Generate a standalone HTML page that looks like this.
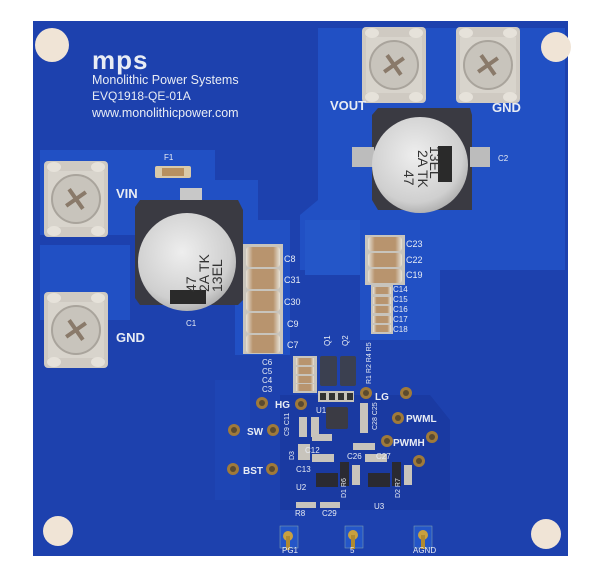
<!DOCTYPE html>
<html><head><meta charset="utf-8"><style>
html,body{margin:0;padding:0;background:#fff;width:600px;height:582px;overflow:hidden}
svg{display:block}
text{font-family:"Liberation Sans",sans-serif;fill:#e8ecf4}
</style></head><body>
<svg width="600" height="582" viewBox="0 0 600 582" xmlns="http://www.w3.org/2000/svg">
<defs>
<radialGradient id="cap" cx="0.45" cy="0.4" r="0.7"><stop offset="0" stop-color="#eeeeee"/><stop offset="0.7" stop-color="#cfcfcf"/><stop offset="1" stop-color="#9a9a9a"/></radialGradient>
<linearGradient id="mlcc" x1="0" x2="1"><stop offset="0" stop-color="#e6e2d8"/><stop offset="0.2" stop-color="#b8946e"/><stop offset="0.8" stop-color="#b8946e"/><stop offset="1" stop-color="#e6e2d8"/></linearGradient>
<g id="term">
<rect x="0" y="0" width="64" height="76" rx="4" fill="#cfcac2"/>
<rect x="4" y="10" width="56" height="56" fill="#d8d4cc"/>
<circle cx="32" cy="38" r="24" fill="#c8c4bc" stroke="#a9a49c" stroke-width="2"/>
<path d="M20 38 L44 38 M32 26 L32 50" stroke="#8a7a6a" stroke-width="4" transform="rotate(-35 32 38)"/>
<ellipse cx="10" cy="6" rx="7" ry="5" fill="#e6e2da"/><ellipse cx="54" cy="6" rx="7" ry="5" fill="#e6e2da"/>
<ellipse cx="10" cy="70" rx="7" ry="5" fill="#e6e2da"/><ellipse cx="54" cy="70" rx="7" ry="5" fill="#e6e2da"/>
</g>
<g id="pad"><circle r="6" fill="#a07a3a"/><circle r="3" fill="#5a4a30"/></g>
</defs>
<rect x="33" y="21" width="535" height="535" fill="#1d41ae"/>
<path d="M318 28 L565 28 L565 270 L300 270 L300 215 L318 200 Z" fill="#2150c4"/>
<path d="M40 150 L215 150 L215 180 L258 180 L258 235 L40 235 Z" fill="#2150c4"/>
<path d="M40 245 L130 245 L130 320 L40 320 Z" fill="#2150c4"/>
<path d="M235 220 L290 220 L290 355 L235 355 Z" fill="#2150c4"/>
<path d="M305 220 L360 220 L360 275 L305 275 Z" fill="#2456c8"/>
<path d="M215 380 L250 380 L250 500 L215 500 Z" fill="#1f47b8" opacity="0.6"/>
<path d="M280 395 L430 395 L450 420 L450 510 L280 510 Z" fill="#1a3aa2"/>
<path d="M360 270 L440 270 L440 340 L360 340 Z" fill="#2150c4"/>
<circle cx="52" cy="45" r="17" fill="#f0e4d6"/>
<circle cx="556" cy="47" r="15" fill="#f0e4d6"/>
<circle cx="58" cy="531" r="15" fill="#f0e4d6"/>
<circle cx="546" cy="534" r="15" fill="#f0e4d6"/>
<text x="92" y="69" font-size="26" font-weight="bold" style="letter-spacing:1px">mps</text>
<text x="92" y="84" font-size="12.5" font-family="Liberation Serif">Monolithic Power Systems</text>
<text x="92" y="100" font-size="12">EVQ1918-QE-01A</text>
<text x="92" y="117" font-size="12.5" font-family="Liberation Serif">www.monolithicpower.com</text>
<use href="#term" x="44" y="161"/>
<use href="#term" x="44" y="292"/>
<use href="#term" x="362" y="27"/>
<use href="#term" x="456" y="27"/>
<text x="116" y="198" font-size="13" font-weight="bold">VIN</text>
<text x="116" y="342" font-size="13" font-weight="bold">GND</text>
<text x="330" y="110" font-size="13" font-weight="bold">VOUT</text>
<text x="492" y="112" font-size="13" font-weight="bold">GND</text>
<text x="164" y="160" font-size="8">F1</text>
<rect x="155" y="166" width="36" height="12" rx="2" fill="#d9c9a8"/><rect x="162" y="168" width="22" height="8" fill="#b79060"/>
<rect x="180" y="188" width="22" height="16" fill="#c8c8c8"/>
<path d="M140 200 L238 200 L243 210 L243 300 L238 305 L140 305 L135 298 L135 207 Z" fill="#3a3a42"/>
<circle cx="187" cy="262" r="49" fill="url(#cap)"/>
<rect x="170" y="290" width="36" height="14" fill="#2a2a2a"/>
<text x="0" y="0" font-size="14" style="fill:#333" transform="translate(196 292) rotate(-90)">47</text>
<text x="0" y="0" font-size="14" style="fill:#333" transform="translate(209 292) rotate(-90)">2A TK</text>
<text x="0" y="0" font-size="14" style="fill:#333" transform="translate(222 292) rotate(-90)">13EL</text>
<text x="186" y="326" font-size="8">C1</text>
<path d="M378 108 L470 108 L472 115 L472 210 L378 210 L372 200 L372 115 Z" fill="#3a3a42"/>
<rect x="352" y="147" width="22" height="20" fill="#bcbcbc"/><rect x="470" y="147" width="20" height="20" fill="#bcbcbc"/>
<circle cx="420" cy="165" r="48" fill="url(#cap)"/>
<rect x="438" y="146" width="14" height="36" fill="#2a2a2a"/>
<text x="0" y="0" font-size="14" style="fill:#333" transform="translate(430 146) rotate(90)">13EL</text>
<text x="0" y="0" font-size="14" style="fill:#333" transform="translate(418 150) rotate(90)">2A TK</text>
<text x="0" y="0" font-size="14" style="fill:#333" transform="translate(404 170) rotate(90)">47</text>
<text x="498" y="161" font-size="8">C2</text>
<rect x="243" y="244" width="40" height="110" fill="#c8c4bc"/>
<rect x="246" y="247" width="34" height="20" rx="3" fill="url(#mlcc)"/>
<rect x="246" y="269" width="34" height="20" rx="3" fill="url(#mlcc)"/>
<rect x="246" y="291" width="34" height="20" rx="3" fill="url(#mlcc)"/>
<rect x="246" y="313" width="34" height="20" rx="3" fill="url(#mlcc)"/>
<rect x="246" y="335" width="34" height="18" rx="3" fill="url(#mlcc)"/>
<text x="284" y="262" font-size="9">C8</text><text x="284" y="283" font-size="9">C31</text>
<text x="284" y="305" font-size="9">C30</text><text x="287" y="327" font-size="9">C9</text><text x="287" y="348" font-size="9">C7</text>
<rect x="365" y="235" width="40" height="50" fill="#c8c4bc"/>
<rect x="368" y="237" width="34" height="14" rx="3" fill="url(#mlcc)"/>
<rect x="368" y="253" width="34" height="14" rx="3" fill="url(#mlcc)"/>
<rect x="368" y="269" width="34" height="14" rx="3" fill="url(#mlcc)"/>
<rect x="371" y="285" width="22" height="49" fill="#c8c4bc"/>
<rect x="373" y="287" width="18" height="7" fill="url(#mlcc)"/><rect x="373" y="297" width="18" height="7" fill="url(#mlcc)"/>
<rect x="373" y="306" width="18" height="7" fill="url(#mlcc)"/><rect x="373" y="316" width="18" height="7" fill="url(#mlcc)"/>
<rect x="373" y="325" width="18" height="7" fill="url(#mlcc)"/>
<text x="406" y="247" font-size="9">C23</text><text x="406" y="263" font-size="9">C22</text><text x="406" y="278" font-size="9">C19</text>
<text x="393" y="292" font-size="8">C14</text><text x="393" y="302" font-size="8">C15</text><text x="393" y="312" font-size="8">C16</text>
<text x="393" y="322" font-size="8">C17</text><text x="393" y="332" font-size="8">C18</text>
<rect x="293" y="356" width="24" height="37" fill="#c8c4bc"/>
<rect x="296" y="358" width="18" height="7" fill="url(#mlcc)"/><rect x="296" y="367" width="18" height="7" fill="url(#mlcc)"/>
<rect x="296" y="376" width="18" height="7" fill="url(#mlcc)"/><rect x="296" y="384" width="18" height="7" fill="url(#mlcc)"/>
<text x="262" y="365" font-size="8">C6</text><text x="262" y="374" font-size="8">C5</text><text x="262" y="383" font-size="8">C4</text><text x="262" y="392" font-size="8">C3</text>
<rect x="320" y="356" width="17" height="30" rx="2" fill="#3b4050"/><rect x="340" y="356" width="16" height="30" rx="2" fill="#3b4050"/>
<text x="0" y="0" font-size="8" transform="translate(330 346) rotate(-90)">Q1</text>
<text x="0" y="0" font-size="8" transform="translate(348 346) rotate(-90)">Q2</text>
<text x="0" y="0" font-size="7" transform="translate(371 384) rotate(-90)">R1 R2 R4 R5</text>
<rect x="318" y="391" width="36" height="11" fill="#c8c4bc"/>
<rect x="320" y="393" width="6" height="7" fill="#333"/><rect x="329" y="393" width="6" height="7" fill="#333"/><rect x="338" y="393" width="6" height="7" fill="#333"/><rect x="347" y="393" width="6" height="7" fill="#333"/>
<rect x="326" y="407" width="22" height="22" rx="2" fill="#3b3b44"/>
<text x="316" y="413" font-size="8">U1</text>
<rect x="299" y="417" width="8" height="20" fill="#c8c4bc"/><rect x="311" y="417" width="8" height="20" fill="#c8c4bc"/>
<rect x="360" y="403" width="8" height="30" fill="#c8c4bc"/>
<rect x="298" y="444" width="12" height="16" fill="#c8c4bc"/>
<rect x="312" y="434" width="20" height="7" fill="#c8c4bc"/><rect x="353" y="443" width="22" height="7" fill="#c8c4bc"/>
<rect x="312" y="454" width="22" height="8" fill="#c8c4bc"/><rect x="365" y="454" width="22" height="8" fill="#c8c4bc"/>
<rect x="352" y="465" width="8" height="20" fill="#c8c4bc"/><rect x="404" y="465" width="8" height="20" fill="#c8c4bc"/>
<rect x="340" y="462" width="9" height="24" fill="#2a2a32"/><rect x="392" y="462" width="9" height="24" fill="#2a2a32"/>
<rect x="316" y="473" width="22" height="14" fill="#2a2a32"/><rect x="368" y="473" width="22" height="14" fill="#2a2a32"/>
<rect x="296" y="502" width="20" height="6" fill="#c8c4bc"/><rect x="320" y="502" width="20" height="6" fill="#c8c4bc"/>
<text x="0" y="0" font-size="7" transform="translate(289 436) rotate(-90)">C9 C11</text>
<text x="0" y="0" font-size="7" transform="translate(377 430) rotate(-90)">C28 C25</text>
<text x="305" y="453" font-size="8">C12</text><text x="347" y="459" font-size="8">C26</text><text x="376" y="459" font-size="8">C27</text>
<text x="296" y="472" font-size="8">C13</text><text x="296" y="490" font-size="8">U2</text><text x="374" y="509" font-size="8">U3</text>
<text x="295" y="516" font-size="8">R8</text><text x="322" y="516" font-size="8">C29</text>
<text x="0" y="0" font-size="7" transform="translate(294 460) rotate(-90)">D3</text>
<text x="0" y="0" font-size="7" transform="translate(346 498) rotate(-90)">D1 R6</text>
<text x="0" y="0" font-size="7" transform="translate(400 498) rotate(-90)">D2 R7</text>
<use href="#pad" x="366" y="393"/><use href="#pad" x="406" y="393"/>
<use href="#pad" x="301" y="404"/><use href="#pad" x="262" y="403"/>
<use href="#pad" x="398" y="418"/><use href="#pad" x="387" y="441"/><use href="#pad" x="432" y="437"/>
<use href="#pad" x="273" y="430"/><use href="#pad" x="234" y="430"/>
<use href="#pad" x="272" y="469"/><use href="#pad" x="233" y="469"/>
<use href="#pad" x="419" y="461"/>
<text x="375" y="400" font-size="10" font-weight="bold">LG</text>
<text x="275" y="408" font-size="10" font-weight="bold">HG</text>
<text x="406" y="422" font-size="10" font-weight="bold">PWML</text>
<text x="393" y="446" font-size="10" font-weight="bold">PWMH</text>
<text x="247" y="435" font-size="10" font-weight="bold">SW</text>
<text x="243" y="474" font-size="10" font-weight="bold">BST</text>
<rect x="280" y="526" width="18" height="22" fill="#2456c8" stroke="#8aa" stroke-width="0.5"/>
<rect x="345" y="526" width="18" height="22" fill="#2456c8" stroke="#8aa" stroke-width="0.5"/>
<rect x="414" y="526" width="18" height="22" fill="#2456c8" stroke="#8aa" stroke-width="0.5"/>
<circle cx="288" cy="536" r="5" fill="#c8a040"/><circle cx="353" cy="535" r="5" fill="#c8a040"/><circle cx="423" cy="535" r="5" fill="#c8a040"/>
<rect x="286" y="536" width="4" height="14" fill="#b08a30"/><rect x="351" y="535" width="4" height="14" fill="#b08a30"/><rect x="421" y="535" width="4" height="14" fill="#b08a30"/>
<text x="282" y="553" font-size="8">PG1</text><text x="350" y="553" font-size="8">5</text><text x="413" y="553" font-size="8">AGND</text>
</svg>
</body></html>
